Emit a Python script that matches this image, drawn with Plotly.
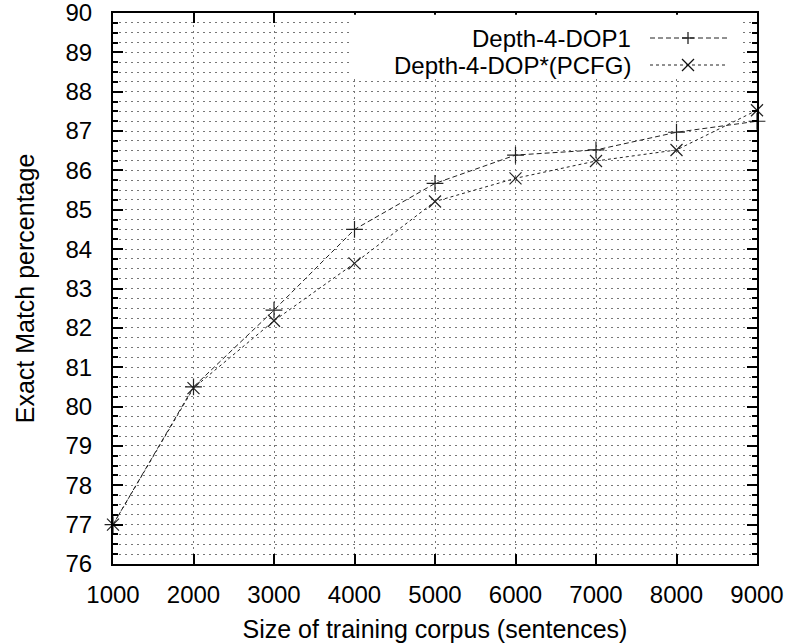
import plotly.graph_objects as go

# ---- data ----
corpus_size = [1000, 2000, 3000, 4000, 5000, 6000, 7000, 8000, 9000]
dop1 = [77.0, 80.5, 82.45, 84.5, 85.67, 86.39, 86.52, 86.97, 87.25]
dop_pcfg = [77.0, 80.47, 82.18, 83.64, 85.21, 85.8, 86.24, 86.52, 87.53]
series_names = ["Depth-4-DOP1", "Depth-4-DOP*(PCFG)"]
x_ticks = [1000, 2000, 3000, 4000, 5000, 6000, 7000, 8000, 9000]
y_ticks = list(range(76, 91))

FONT = "Liberation Sans, Arial, sans-serif"
fig = go.Figure()

fig.add_trace(go.Scatter(
    x=corpus_size, y=dop1, mode="lines+markers", name=series_names[0],
    line=dict(color="#222", width=1, dash="5px,3px"),
    marker=dict(symbol="cross-thin-open", size=12, line=dict(color="#111", width=1.2)),
    showlegend=False, cliponaxis=False))
fig.add_trace(go.Scatter(
    x=corpus_size, y=dop_pcfg, mode="lines+markers", name=series_names[1],
    line=dict(color="#222", width=1, dash="3px,3px"),
    marker=dict(symbol="x-thin-open", size=12, line=dict(color="#111", width=1.2)),
    showlegend=False, cliponaxis=False))

L, R, T, B = 113, 35, 13, 80
W, H = 792, 644
pw, ph = W - L - R, H - T - B

def px2paper_x(px):
    return (px - L) / pw

def px2paper_y(py):
    return (H - B - py) / ph

shapes = []
# legend white background
shapes.append(dict(type="rect", xref="paper", yref="paper",
                   x0=px2paper_x(350), x1=px2paper_x(742),
                   y0=px2paper_y(78), y1=1.0 - 0.003,
                   fillcolor="white", line=dict(width=0), layer="above"))
annotations = []
rows = [38, 65]
dashes = ["5px,3px", "3px,3px"]
for i, (name, ry) in enumerate(zip(series_names, rows)):
    yp = px2paper_y(ry)
    annotations.append(dict(text=name, xref="paper", yref="paper",
                             x=px2paper_x(633), y=yp, xanchor="right", yanchor="middle",
                             showarrow=False, font=dict(family=FONT, size=24, color="black")))
    shapes.append(dict(type="line", xref="paper", yref="paper",
                       x0=px2paper_x(650), x1=px2paper_x(727), y0=yp, y1=yp,
                       line=dict(color="#222", width=1, dash=dashes[i]), layer="above"))
    cx = px2paper_x(688)
    if i == 0:
        segs = [(-6, 0, 6, 0), (0, -6, 0, 6)]
    else:
        segs = [(-6, -6, 6, 6), (-6, 6, 6, -6)]
    for (a, b, c, d) in segs:
        shapes.append(dict(type="line", xref="paper", yref="paper",
                           xsizemode="pixel", ysizemode="pixel",
                           xanchor=cx, yanchor=yp, x0=a, y0=b, x1=c, y1=d,
                           line=dict(color="#111", width=1.2), layer="above"))

GRID = dict(showgrid=True, gridcolor="#777", gridwidth=1, griddash="2px,4px")

fig.update_layout(
    width=W, height=H,
    margin=dict(l=L, r=R, t=T, b=B, autoexpand=False),
    paper_bgcolor="white", plot_bgcolor="white",
    font=dict(family=FONT, size=24, color="black"),
    shapes=shapes, annotations=annotations,
)
fig.update_xaxes(
    range=[1000, 9000], tickvals=x_ticks, ticktext=[str(v) for v in x_ticks],
    showline=True, linecolor="black", linewidth=2, mirror="allticks",
    ticks="inside", ticklen=10, tickwidth=1.5, tickcolor="black",
    zeroline=False, ticklabelstandoff=8, automargin=False, ticklabeloverflow="allow",
    tickfont=dict(size=24),
    title=dict(text="Size of training corpus (sentences)", font=dict(size=25), standoff=14),
    **GRID,
)
fig.update_yaxes(
    range=[76, 90], tickvals=y_ticks, ticktext=[str(v) for v in y_ticks],
    showline=True, linecolor="black", linewidth=2, mirror="allticks",
    ticks="inside", ticklen=10, tickwidth=1.5, tickcolor="black",
    minor=dict(dtick=0.25, tick0=76, ticks="inside", ticklen=5, tickwidth=1.5,
               tickcolor="black", **GRID),
    zeroline=False, ticklabelstandoff=14, automargin=False, ticklabeloverflow="allow",
    tickfont=dict(size=24),
    title=dict(text="Exact Match percentage", font=dict(size=25), standoff=24),
    **GRID,
)

fig.write_html("out.html", config={"displayModeBar": False},
               post_script="document.body.style.margin='0';document.body.style.overflow='hidden';")
